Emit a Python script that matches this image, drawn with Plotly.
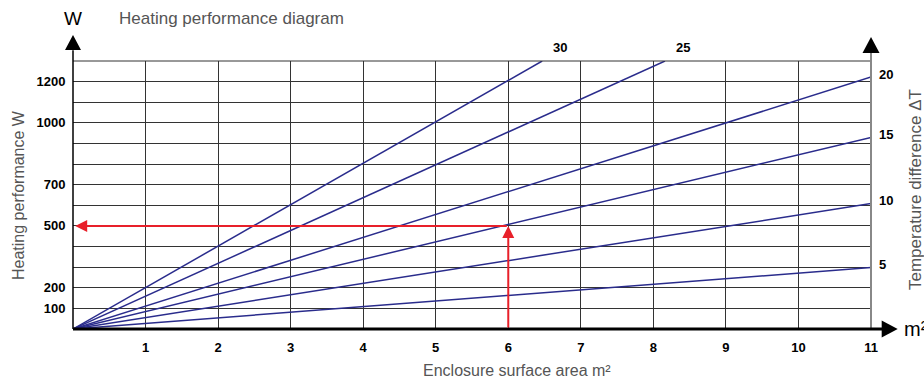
import numpy as np
import plotly.graph_objects as go

# temperature difference curves (K) and their heating performance per m2 (W/m2)
delta_t = [5, 10, 15, 20, 25, 30]
watts_per_m2 = [27.1, 55.3, 84.5, 111.1, 159.3, 201.0]

# x axis: enclosure surface area, y axis: heating performance
x_ticks = list(range(1, 12))
y_ticks = [100, 200, 500, 700, 1000, 1200]
x_max = 11
y_max = 1300

# worked example
example_area = 6
example_watts = 500

NAVY = "#2a2c8c"
RED = "#e8202a"
GREY_TEXT = "#555555"
FONT = "Liberation Sans, Arial, sans-serif"

fig = go.Figure()

slopes = np.array(watts_per_m2)
x_end = np.minimum(x_max, y_max / slopes)
y_end = slopes * x_end

for dt, xe, ye in zip(delta_t, x_end, y_end):
    fig.add_trace(
        go.Scatter(
            x=[0, xe],
            y=[0, ye],
            mode="lines",
            line=dict(color=NAVY, width=1.5),
            name=f"{dt}",
            hoverinfo="skip",
        )
    )
    top = ye >= y_max - 1
    fig.add_annotation(
        x=xe, y=ye, text=f"<b>{dt}</b>", showarrow=False,
        xanchor="left", xshift=9 if top else 6, yshift=14 if top else 3,
        font=dict(family=FONT, size=13, color="black"),
    )

# red example arrows
fig.add_annotation(
    x=example_area, y=example_watts, ax=example_area, ay=0,
    xref="x", yref="y", axref="x", ayref="y", text="",
    showarrow=True, arrowhead=2, arrowsize=1.2, arrowwidth=2, arrowcolor=RED,
)
fig.add_annotation(
    x=0.03, y=example_watts, ax=example_area, ay=example_watts,
    xref="x", yref="y", axref="x", ayref="y", text="",
    showarrow=True, arrowhead=2, arrowsize=1.2, arrowwidth=2, arrowcolor=RED,
)

# axis lines and arrow heads
shapes = [
    dict(type="line", xref="paper", yref="paper", x0=0, x1=1, y0=1, y1=1,
         line=dict(color="#333333", width=1)),
    dict(type="line", xref="paper", yref="paper", x0=0, x1=0, y0=0, y1=1.04,
         line=dict(color="black", width=1.5)),
    dict(type="line", xref="paper", yref="paper", x0=1, x1=1, y0=0, y1=1.03,
         line=dict(color="#888888", width=2)),
    dict(type="line", xref="paper", yref="paper", x0=0, x1=1.014, y0=0, y1=0,
         line=dict(color="black", width=3)),
    dict(type="path", xref="paper", yref="paper", xsizemode="pixel", ysizemode="pixel",
         xanchor=0, yanchor=1, path="M -8,11 L 8,11 L 0,26 Z",
         fillcolor="black", line=dict(width=0)),
    dict(type="path", xref="paper", yref="paper", xsizemode="pixel", ysizemode="pixel",
         xanchor=1, yanchor=1, path="M -8.5,8 L 8.5,8 L 0,24 Z",
         fillcolor="black", line=dict(width=0)),
    dict(type="path", xref="paper", yref="paper", xsizemode="pixel", ysizemode="pixel",
         xanchor=1, yanchor=0, path="M 10.7,-8.5 L 10.7,8.5 L 26.7,0 Z",
         fillcolor="black", line=dict(width=0)),
]

texts = [
    dict(text="W", x=0, y=(329 - 18) / 268, xanchor="center", font=dict(size=19, color="black")),
    dict(text="Heating performance diagram", x=(117 - 73) / 798, y=(329 - 18) / 268,
         xanchor="left", font=dict(size=17, color=GREY_TEXT)),
    dict(text="Enclosure surface area m²", x=(517 - 73) / 798, y=(329 - 370) / 268,
         xanchor="center", font=dict(size=16, color=GREY_TEXT)),
    dict(text="Heating performance W", x=(18 - 73) / 798, y=(329 - 195) / 268,
         xanchor="center", textangle=-90, font=dict(size=16, color=GREY_TEXT)),
    dict(text="Temperature difference ΔT", x=(915 - 73) / 798, y=(329 - 190) / 268,
         xanchor="center", textangle=-90, font=dict(size=17, color=GREY_TEXT)),
    dict(text="m²", x=(902 - 73) / 798, y=0, xanchor="left", font=dict(size=20, color="black")),
]
for t in texts:
    t["font"]["family"] = FONT
    fig.add_annotation(xref="paper", yref="paper", yanchor="middle", showarrow=False, **t)

fig.update_layout(
    width=924,
    height=382,
    margin=dict(l=73, r=53, t=61, b=53),
    plot_bgcolor="white",
    paper_bgcolor="white",
    showlegend=False,
    shapes=shapes,
    xaxis=dict(
        range=[0, x_max],
        tickvals=x_ticks,
        ticktext=[f"<b>{v}</b>" for v in x_ticks],
        showgrid=True, gridcolor="#333333", gridwidth=1,
        zeroline=False, showline=False, automargin=False,
        ticks="outside", ticklen=6, tickcolor="rgba(0,0,0,0)",
        tickfont=dict(family=FONT, size=13, color="black"),
    ),
    yaxis=dict(
        range=[0, y_max],
        tickvals=y_ticks,
        ticktext=[f"<b>{v}</b>" for v in y_ticks],
        showgrid=True, gridcolor="#333333", gridwidth=1,
        minor=dict(dtick=100, tick0=0, showgrid=True, gridcolor="#333333", gridwidth=1),
        zeroline=False, showline=False, automargin=False,
        ticks="outside", ticklen=4, tickcolor="rgba(0,0,0,0)",
        tickfont=dict(family=FONT, size=13, color="black"),
    ),
)

fig.write_html(
    "out.html",
    config={"displayModeBar": False},
    post_script="document.body.style.margin='0';",
)
